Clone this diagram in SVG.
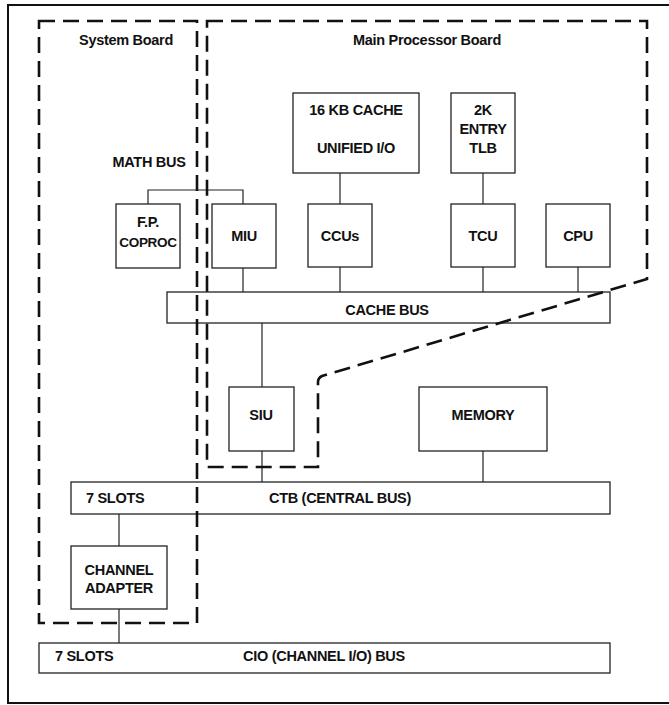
<svg xmlns="http://www.w3.org/2000/svg" width="669" height="705" viewBox="0 0 669 705">
<style>
.box{fill:#fff;stroke:#222;stroke-width:1.3}
.ln{stroke:#222;stroke-width:1.2;fill:none}
.dash{stroke:#111;stroke-width:2.6;fill:none;stroke-dasharray:16 8}
text{font-family:"Liberation Sans",Arial,sans-serif;font-weight:bold;font-size:14.5px;fill:#111;text-anchor:middle;letter-spacing:-0.3px}
.st{text-anchor:start}
</style>
<rect width="669" height="705" fill="#fff"/>
<path d="M669,5 H8 V703 H669" fill="none" stroke="#111" stroke-width="2"/>
<g id="connectors">
<path class="ln" d="M148,204 V190 H243 V204"/>
<path class="ln" d="M243,268 V292"/>
<path class="ln" d="M340,173 V204"/>
<path class="ln" d="M340,267 V292"/>
<path class="ln" d="M483,173 V204"/>
<path class="ln" d="M483,267 V292"/>
<path class="ln" d="M578,267 V292"/>
<path class="ln" d="M262,323 V387"/>
<path class="ln" d="M262,451 V482"/>
<path class="ln" d="M483,451 V482"/>
<path class="ln" d="M119,514 V546"/>
<path class="ln" d="M119,609 V643"/>
</g>
<g id="math-bus"><text x="149" y="167">MATH BUS</text></g>
<g id="cache"><rect class="box" x="293" y="93" width="126" height="80"/><text x="356" y="115">16 KB CACHE</text><text x="356" y="153">UNIFIED I/O</text></g>
<g id="tlb"><rect class="box" x="451" y="93" width="64" height="80"/><text x="483" y="115">2K</text><text x="483" y="134">ENTRY</text><text x="483" y="153">TLB</text></g>
<g id="fp"><rect class="box" x="116" y="204" width="64" height="64"/><text x="148" y="227">F.P.</text><text x="148" y="247" style="font-size:13.5px">COPROC</text></g>
<g id="miu"><rect class="box" x="212" y="204" width="64" height="64"/><text x="244" y="241">MIU</text></g>
<g id="ccus"><rect class="box" x="308" y="204" width="64" height="63"/><text x="340" y="241">CCUs</text></g>
<g id="tcu"><rect class="box" x="451" y="204" width="64" height="63"/><text x="483" y="241">TCU</text></g>
<g id="cpu"><rect class="box" x="546" y="204" width="64" height="63"/><text x="578" y="241">CPU</text></g>
<g id="cache-bus"><rect class="box" x="167" y="292" width="443" height="31"/><text x="387" y="315">CACHE BUS</text></g>
<g id="siu"><rect class="box" x="229" y="387" width="65" height="64"/><text x="261" y="420">SIU</text></g>
<g id="memory"><rect class="box" x="419" y="387" width="128" height="64"/><text x="483" y="420">MEMORY</text></g>
<g id="ctb"><rect class="box" x="71" y="482" width="539" height="32"/><text class="st" x="86" y="503">7 SLOTS</text><text x="340" y="503">CTB (CENTRAL BUS)</text></g>
<g id="channel-adapter"><rect class="box" x="71" y="546" width="96" height="63"/><text x="119" y="575">CHANNEL</text><text x="119" y="593">ADAPTER</text></g>
<g id="cio"><rect class="box" x="39" y="643" width="571" height="30"/><text class="st" x="55" y="661">7 SLOTS</text><text x="324" y="661">CIO (CHANNEL I/O) BUS</text></g>
<g id="system-board">
<path class="dash" d="M39,21 H197 V623 H39 Z"/>
<text x="126" y="45">System Board</text>
</g>
<g id="main-processor-board">
<path class="dash" d="M207,21 H647 V279 L322,376 Q318,378 318,382 V467 H207 Z"/>
<text x="427" y="45">Main Processor Board</text>
</g>
</svg>
